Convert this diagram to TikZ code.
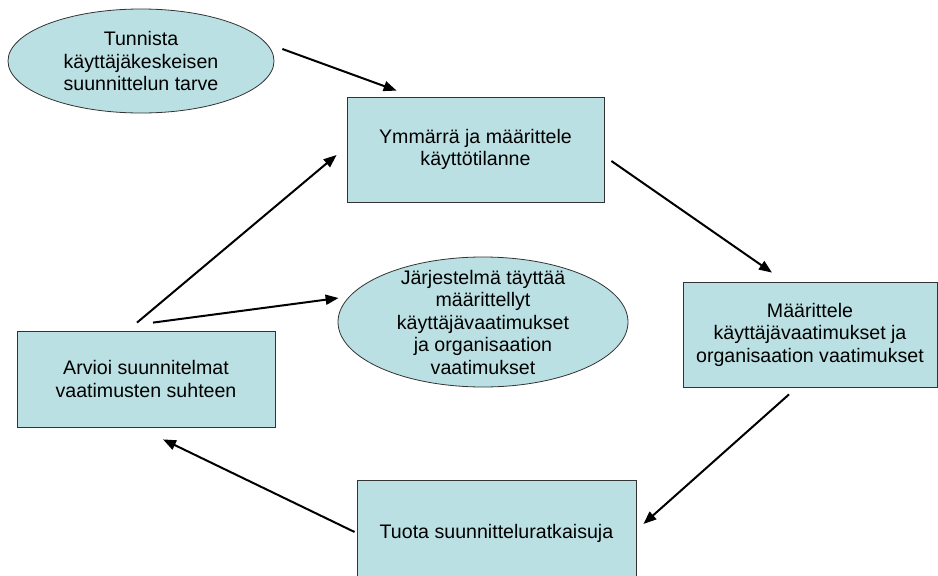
\documentclass[tikz,border=0pt]{standalone}
\usepackage{fontspec}
\setmainfont{Liberation Sans}
\usetikzlibrary{shapes.geometric,arrows.meta}
\definecolor{laatikko}{RGB}{187,224,227}
\tikzset{
  vaihe/.style={draw=black!80,line width=0.8pt,fill=laatikko,rectangle,align=center,inner sep=0pt,font=\fontsize{19.6}{22.5}\selectfont},
  tavoite/.style={vaihe,ellipse},
  teksti/.style={align=center,inner sep=0pt,font=\fontsize{19.6}{22.5}\selectfont},
  nuoli/.style={line width=2pt,-{Triangle[length=13pt,width=10pt]}}
}
\begin{document}
\begin{tikzpicture}[x=1pt,y=-1pt]
\useasboundingbox (0,0) rectangle (938,576);
\clip (0,0) rectangle (938,576);
%Tavoitteet
\node[tavoite,minimum width=266pt,minimum height=104pt] (e1) at (141,61) {Tunnista\\käyttäjäkeskeisen\\suunnittelun tarve};
\node[tavoite,minimum width=290pt,minimum height=130pt] (e2) at (483,322) {};
\node[teksti] (t2) at (e2) {Järjestelmä täyttää\\määrittellyt\\käyttäjävaatimukset\\ja organisaation\\vaatimukset};
%Vaiheet
\node[vaihe,minimum width=257pt,minimum height=105pt] (b1) at (475.5,149.5) {Ymmärrä ja määrittele\\käyttötilanne};
\node[vaihe,minimum width=254pt,minimum height=105pt] (b2) at (810,334.5) {Määrittele\\käyttäjävaatimukset ja\\organisaation vaatimukset};
\node[vaihe,minimum width=258pt,minimum height=96pt] (b3) at (146,379) {Arvioi suunnitelmat\\vaatimusten suhteen};
\node[vaihe,minimum width=279pt,minimum height=106pt] (b4) at (496.5,533) {Tuota suunnitteluratkaisuja};
%Nuolet
\draw[nuoli] ([shift={(8,-12)}]e1.east) -- ([shift={(50,-6)}]b1.north west);
\draw[nuoli] ([shift={(7,11.5)}]b1.east) -- ([shift={(-38,-9)}]b2.north);
\draw[nuoli] ([shift={(-21,7)}]b2.south) -- ([shift={(7,-9)}]b4.east);
\draw[nuoli] ([shift={(-2,-1)}]b4.west) -- ([shift={(17,12)}]b3.south);
\draw[nuoli] ([shift={(-9,-8)}]b3.north) -- ([shift={(-10,5.5)}]b1.west);
\draw[nuoli] ([shift={(7,-8)}]b3.north) -- ([shift={(1,-24)}]e2.west);
\end{tikzpicture}
\end{document}
